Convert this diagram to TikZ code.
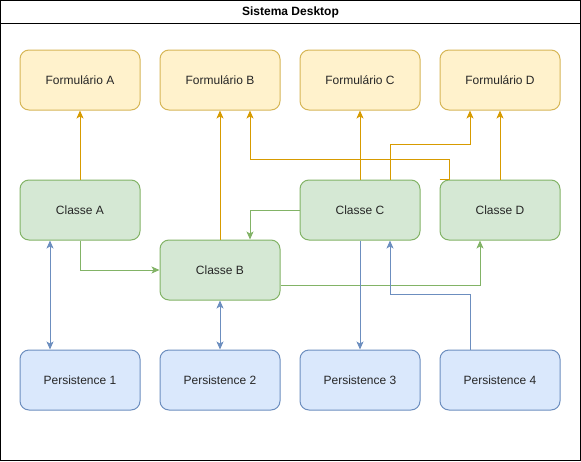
\documentclass[tikz,border=0pt]{standalone}
\usepackage{fontspec}
\setmainfont{Liberation Sans}
\usetikzlibrary{arrows.meta}

\definecolor{formfill}{HTML}{FFF2CC}
\definecolor{formline}{HTML}{D6B656}
\definecolor{classfill}{HTML}{D5E8D4}
\definecolor{classline}{HTML}{82B366}
\definecolor{persfill}{HTML}{DAE8FC}
\definecolor{persline}{HTML}{6C8EBF}
\definecolor{formarrow}{HTML}{D79B00}

\tikzset{
    box/.style={rounded corners=9pt, line width=1pt, minimum width=120pt,
        minimum height=60pt, inner sep=0pt, text=black!85,
        font=\fontsize{12}{14}\selectfont},
    formbox/.style={box, draw=formline, fill=formfill},
    classbox/.style={box, draw=classline, fill=classfill},
    persbox/.style={box, draw=persline, fill=persfill},
    dtip/.tip={Stealth[length=8pt,width=7pt,inset=2pt]},
    oarrow/.style={draw=formarrow, line width=1pt, -dtip},
    garrow/.style={draw=classline, line width=1pt, -dtip},
    barrow/.style={draw=persline, line width=1pt, -dtip},
    bbarrow/.style={draw=persline, line width=1pt, dtip-dtip},
}

\begin{document}
\begin{tikzpicture}[x=1pt, y=-1pt]
    \useasboundingbox (0,0) rectangle (581,461);

    % Draw frame and title bar
    \node[draw, line width=1pt, minimum width=580pt, minimum height=460pt,
        inner sep=0pt] (frame) at (290.5,230.5) {};
    \draw[line width=1pt] (0.5,23) -- (580.5,23);
    \node[font=\fontsize{12}{14}\selectfont\bfseries] (title) at (290.5,12) {Sistema Desktop};

    % Formularios
    \node[formbox] (fa) at (80,80)  {Formulário A};
    \node[formbox] (fb) at (220,80) {Formulário B};
    \node[formbox] (fc) at (360,80) {Formulário C};
    \node[formbox] (fd) at (500,80) {Formulário D};

    % Classes
    \node[classbox] (ca) at (80,210)  {Classe A};
    \node[classbox] (cb) at (220,270) {Classe B};
    \node[classbox] (cc) at (360,210) {Classe C};
    \node[classbox] (cd) at (500,210) {Classe D};

    % Persistence
    \node[persbox] (p1) at (80,380)  {Persistence 1};
    \node[persbox] (p2) at (220,380) {Persistence 2};
    \node[persbox] (p3) at (360,380) {Persistence 3};
    \node[persbox] (p4) at (500,380) {Persistence 4};

    % Classes to forms
    \draw[oarrow] (ca.north) -- (fa.south);
    \draw[oarrow] (cb.north) -- (fb.south);
    \draw[oarrow] (cc.north) -- (fc.south);
    \draw[oarrow] (cd.north) -- (fd.south);
    \draw[oarrow] (cd.north west) -- ([xshift=10pt]cd.north west) -- ++(0,-20) -| ([xshift=30pt]fb.south);
    \draw[oarrow] ([xshift=30pt]cc.north) -- ++(0,-35) -| ([xshift=-30pt]fd.south);

    % Classes to classes
    \draw[garrow] (ca.south) |- (cb.west);
    \draw[garrow] (cc.west) -| ([xshift=30pt]cb.north);
    \draw[garrow] ([yshift=-15pt]cb.east) -| ([xshift=-20pt]cd.south);

    % Classes to persistence
    \draw[bbarrow] ([xshift=-30pt]ca.south) -- ([xshift=-30pt]p1.north);
    \draw[bbarrow] (cb.south) -- (p2.north);
    \draw[barrow] (cc.south) -- (p3.north);
    \draw[barrow] ([xshift=-30pt]p4.north) -- ++(0,-55) -| ([xshift=30pt]cc.south);
\end{tikzpicture}
\end{document}
